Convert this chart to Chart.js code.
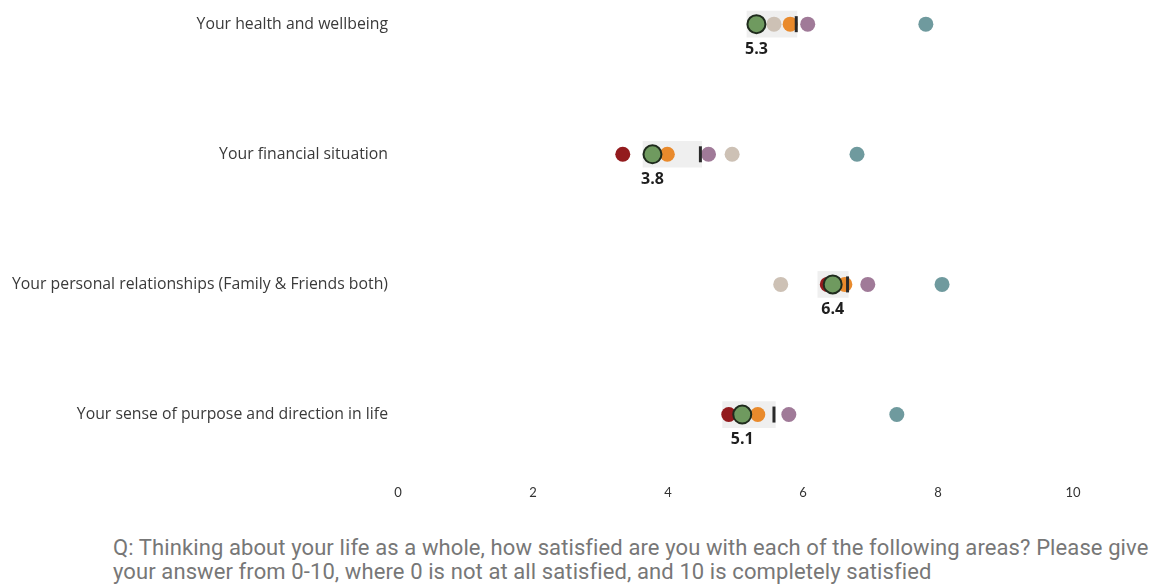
<!DOCTYPE html>
<html>
<head>
<meta charset="utf-8">
<script src="https://cdn.jsdelivr.net/npm/chart.js@4"></script>
<style>
  body { margin: 0; background: #fff; }
  #wrap { position: relative; width: 1149px; height: 585px; }
  #note {
    position: absolute; left: 113px; top: 536px;
    font-family: "Roboto", sans-serif;
    font-size: 22px; line-height: 24px; color: #777;
    letter-spacing: 0.1px;
    white-space: nowrap;
  }
</style>
</head>
<body>
<div id="wrap">
  <canvas id="chart" width="1149" height="510"></canvas>
  <div id="note">Q: Thinking about your life as a whole, how satisfied are you with each of the following areas? Please give<br>your answer from 0-10, where 0 is not at all satisfied, and 10 is completely satisfied</div>
</div>
<script>
// rows, top to bottom
const areas = [
    'Your health and wellbeing',
    'Your financial situation',
    'Your personal relationships (Family & Friends both)',
    'Your sense of purpose and direction in life'
];
const xTicks = [0, 2, 4, 6, 8, 10];

// scores per row (null = not visible)
const overall = [5.31, 3.77, 6.44, 5.10];   // green, labelled
const previous = [5.90, 4.48, 6.66, 5.57];  // black tick
const redGroup = [null, 3.33, 6.36, 4.90];
const orangeGroup = [5.81, 3.99, 6.62, 5.33];
const purpleGroup = [6.07, 4.60, 6.96, 5.79];
const beigeGroup = [5.57, 4.95, 5.67, null];
const tealGroup = [7.82, 6.80, 8.06, 7.39];
// grey band behind the cluster
const bandLow = [5.17, 3.63, 6.22, 4.81];
const bandHigh = [5.91, 4.50, 6.67, 5.59];

const points = arr => arr.map((v, i) => v === null ? null : { x: v, y: i }).filter(p => p);

function dots(label, values, color, order) {
    return {
        type: 'scatter',
        label: label,
        data: points(values),
        backgroundColor: color,
        borderColor: color,
        borderWidth: 0,
        pointRadius: 7.5,
        clip: false,
        order: order
    };
}

const valueLabels = {
    id: 'valueLabels',
    afterDatasetsDraw(chart) {
        const ctx = chart.ctx;
        const xs = chart.scales.x, ys = chart.scales.y;
        ctx.save();
        ctx.font = 'bold 16px "Open Sans", sans-serif';
        ctx.fillStyle = '#1e1e1e';
        ctx.textAlign = 'center';
        ctx.textBaseline = 'middle';
        overall.forEach((v, i) => {
            ctx.fillText(v.toFixed(1), xs.getPixelForValue(v), ys.getPixelForValue(i) + 25);
        });
        ctx.restore();
    }
};

new Chart(document.getElementById('chart'), {
    type: 'scatter',
    data: {
        datasets: [
            {
                type: 'scatter',
                label: 'Overall',
                data: points(overall),
                backgroundColor: '#6f9a5f',
                borderColor: '#1f2b1d',
                borderWidth: 2,
                pointRadius: 9,
                clip: false,
                order: 0
            },
            {
                type: 'scatter',
                label: 'Previous',
                data: points(previous),
                pointStyle: 'line',
                rotation: 90,
                pointRadius: 8,
                borderColor: '#2a2a2a',
                borderWidth: 3,
                clip: false,
                order: 1
            },
            dots('Red', redGroup, '#931b1e', 2),
            dots('Orange', orangeGroup, '#e98a2c', 3),
            dots('Purple', purpleGroup, '#a07a98', 4),
            dots('Beige', beigeGroup, '#cdc1b5', 5),
            dots('Teal', tealGroup, '#6f9a9e', 6),
            {
                type: 'bar',
                label: 'Range',
                indexAxis: 'y',
                data: bandLow.map((v, i) => ({ x: [v, bandHigh[i]], y: i })),
                backgroundColor: '#efefef',
                barThickness: 26,
                clip: false,
                order: 10
            }
        ]
    },
    options: {
        responsive: false,
        animation: false,
        layout: { padding: { left: 0, right: 76, top: 5, bottom: 0 } },
        plugins: { legend: { display: false }, tooltip: { enabled: false } },
        scales: {
            x: {
                type: 'linear',
                offset: false,
                min: 0,
                max: 10,
                afterBuildTicks: s => { s.ticks = xTicks.map(v => ({ value: v })); },
                afterFit: s => { s.height = 30; },
                grid: { display: false, drawTicks: false },
                border: { display: false },
                ticks: { padding: 5, color: '#333', font: { family: 'Lato', size: 13 } }
            },
            y: {
                type: 'linear',
                offset: false,
                reverse: true,
                min: -0.036,
                max: 3.503,
                afterBuildTicks: s => { s.ticks = areas.map((a, i) => ({ value: i })); },
                afterFit: s => { s.width = 398; },
                grid: { display: false, drawTicks: false },
                border: { display: false },
                ticks: {
                    padding: 10,
                    color: '#3a3a3a',
                    font: { family: 'Open Sans', size: 15.8 },
                    callback: v => areas[v]
                }
            }
        }
    },
    plugins: [valueLabels]
});
</script>
</body>
</html>
